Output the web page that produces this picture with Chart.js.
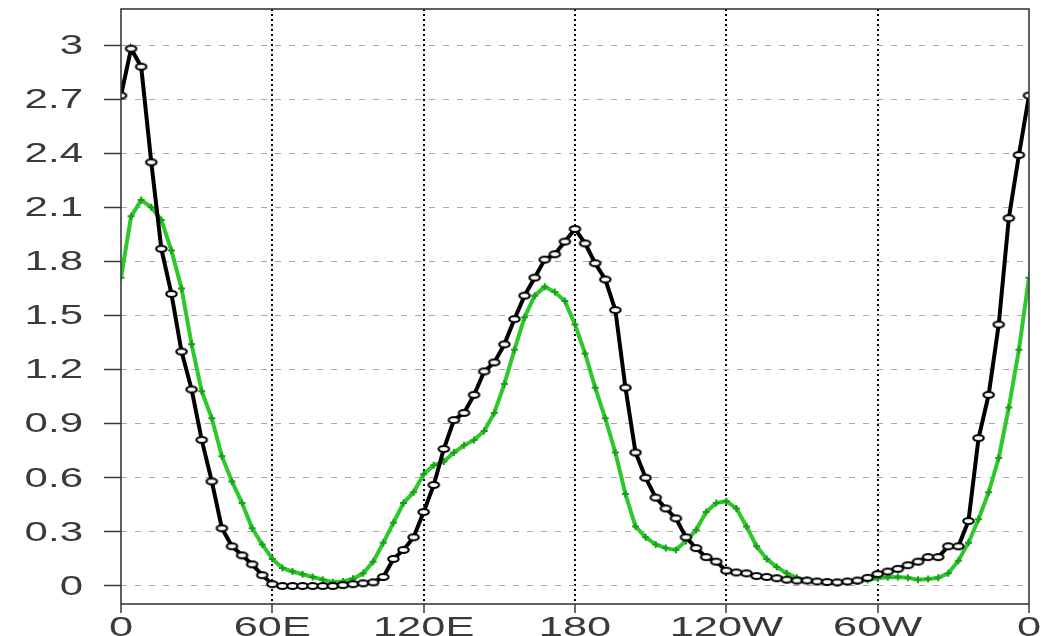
<!DOCTYPE html>
<html>
<head>
<meta charset="utf-8">
<script src="https://cdn.jsdelivr.net/npm/chart.js@4/dist/chart.umd.min.js"></script>
<style>
  html, body { margin: 0; padding: 0; background: #fff; }
  #wrap { width: 1041px; height: 636px; position: relative; }
</style>
</head>
<body>
<div id="wrap"><canvas id="chart"></canvas></div>
<script>
// longitude grid (degrees east, 0..360)
const lon = [
  0, 4, 8, 12, 16, 20, 24, 28, 32, 36, 40, 44, 48, 52, 56, 60,
  64, 68, 72, 76, 80, 84, 88, 92, 96, 100, 104, 108, 112, 116, 120,
  124, 128, 132, 136, 140, 144, 148, 152, 156, 160, 164, 168, 172, 176, 180,
  184, 188, 192, 196, 200, 204, 208, 212, 216, 220, 224, 228, 232, 236, 240,
  244, 248, 252, 256, 260, 264, 268, 272, 276, 280, 284, 288, 292, 296, 300,
  304, 308, 312, 316, 320, 324, 328, 332, 336, 340, 344, 348, 352, 356, 360
];

const blackSeries = [
  2.72, 2.98, 2.88, 2.35, 1.87, 1.62, 1.30, 1.09, 0.81, 0.58, 0.32, 0.22, 0.17, 0.12, 0.06, 0.01,
  0.0, 0.0, 0.0, 0.0, 0.0, 0.0, 0.005, 0.01, 0.015, 0.02, 0.05, 0.15, 0.20, 0.27, 0.41,
  0.56, 0.76, 0.92, 0.96, 1.06, 1.19, 1.24, 1.34, 1.48, 1.61, 1.71, 1.81, 1.84, 1.91, 1.98,
  1.90, 1.79, 1.70, 1.53, 1.10, 0.74, 0.60, 0.49, 0.43, 0.375, 0.27, 0.21, 0.16, 0.135, 0.085,
  0.075, 0.07, 0.055, 0.05, 0.043, 0.035, 0.03, 0.03, 0.025, 0.022, 0.02, 0.025, 0.03, 0.045, 0.066,
  0.08, 0.095, 0.115, 0.135, 0.16, 0.16, 0.22, 0.22, 0.36, 0.82, 1.06, 1.45, 2.04, 2.39, 2.72
];

const greenSeries = [
  1.71, 2.05, 2.14, 2.10, 2.03, 1.86, 1.65, 1.34, 1.08, 0.93, 0.72, 0.58, 0.46, 0.32, 0.23, 0.15,
  0.10, 0.08, 0.065, 0.05, 0.035, 0.02, 0.025, 0.04, 0.07, 0.135, 0.24, 0.35, 0.46, 0.52, 0.62,
  0.67, 0.69, 0.74, 0.78, 0.81, 0.86, 0.96, 1.12, 1.31, 1.49, 1.61, 1.66, 1.63, 1.58, 1.45,
  1.29, 1.10, 0.93, 0.74, 0.51, 0.33, 0.27, 0.23, 0.21, 0.20, 0.25, 0.31, 0.41, 0.46, 0.47,
  0.43, 0.33, 0.22, 0.15, 0.105, 0.07, 0.045, 0.033, 0.025, 0.02, 0.015, 0.02, 0.025, 0.035, 0.043,
  0.048, 0.05, 0.045, 0.035, 0.038, 0.045, 0.07, 0.14, 0.24, 0.37, 0.52, 0.71, 0.99, 1.31, 1.71
];

const xTickValues = [0, 60, 120, 180, 240, 300, 360];
const xTickLabels = ['0', '60E', '120E', '180', '120W', '60W', '0'];
const yTickValues = [0, 0.3, 0.6, 0.9, 1.2, 1.5, 1.8, 2.1, 2.4, 2.7, 3];
const yTickLabels = ['0', '0.3', '0.6', '0.9', '1.2', '1.5', '1.8', '2.1', '2.4', '2.7', '3'];

// open ellipse marker, the original looks horizontally stretched
function ellipseMarker() {
    const c = document.createElement('canvas');
    c.width = 15;
    c.height = 10;
    const g = c.getContext('2d');
    g.beginPath();
    g.ellipse(7.5, 5, 5.2, 3.0, 0, 0, Math.PI * 2);
    g.fillStyle = '#ffffff';
    g.fill();
    g.lineWidth = 2.2;
    g.strokeStyle = '#000000';
    g.stroke();
    return c;
}

// tick labels are drawn stretched sideways, like the reference font
const stretchedLabels = {
    id: 'stretchedLabels',
    afterDraw(chart) {
        const {ctx, chartArea, scales} = chart;
        ctx.save();
        ctx.font = '28px "Liberation Sans", Arial, sans-serif';
        ctx.fillStyle = '#3a3a3a';

        // frame
        ctx.strokeStyle = '#3a3a3a';
        ctx.lineWidth = 1.6;
        ctx.strokeRect(chartArea.left, chartArea.top,
            chartArea.right - chartArea.left, chartArea.bottom - chartArea.top);

        ctx.textAlign = 'right';
        ctx.textBaseline = 'middle';
        yTickValues.forEach((v, i) => {
            const py = scales.y.getPixelForValue(v);
            ctx.save();
            ctx.translate(83, py + 1);
            ctx.scale(1.5, 1);
            ctx.fillText(yTickLabels[i], 0, 0);
            ctx.restore();
        });

        ctx.textAlign = 'center';
        ctx.textBaseline = 'top';
        xTickValues.forEach((v, i) => {
            const px = scales.x.getPixelForValue(v);
            ctx.save();
            ctx.translate(px, chartArea.bottom + 10);
            ctx.scale(1.55, 1);
            ctx.fillText(xTickLabels[i], 0, 0);
            ctx.restore();
        });
        ctx.restore();
    }
};

const ctx = document.getElementById('chart');

new Chart(ctx, {
    type: 'line',
    data: {
        datasets: [
            {
                label: 'black',
                data: lon.map((x, i) => ({x: x, y: blackSeries[i]})),
                borderColor: '#000000',
                borderWidth: 4,
                pointStyle: ellipseMarker(),
                pointRadius: 5,
                tension: 0
            },
            {
                label: 'green',
                data: lon.map((x, i) => ({x: x, y: greenSeries[i]})),
                borderColor: '#2cc82c',
                borderWidth: 4,
                pointStyle: 'cross',
                pointRadius: 3.5,
                pointBorderColor: '#1b9e1b',
                pointBorderWidth: 2,
                tension: 0
            }
        ]
    },
    options: {
        responsive: true,
        maintainAspectRatio: false,
        animation: false,
        events: [],
        layout: {
            padding: {left: 0, top: 9, right: 12, bottom: 0}
        },
        plugins: {
            legend: {display: false},
            tooltip: {enabled: false}
        },
        scales: {
            x: {
                type: 'linear',
                min: 0,
                max: 360,
                afterBuildTicks: (scale) => {
                    scale.ticks = xTickValues.map(v => ({value: v}));
                },
                afterFit: (scale) => {
                    scale.height = 32;
                },
                ticks: {display: false},
                grid: {
                    color: (c) => (c.tick && (c.tick.value === 0 || c.tick.value === 360)) ? 'rgba(0,0,0,0)' : '#000000',
                    lineWidth: 2,
                    drawTicks: true,
                    tickLength: 9,
                    tickColor: '#3a3a3a',
                    tickWidth: 1.5
                },
                border: {display: false, dash: [2, 3]}
            },
            y: {
                type: 'linear',
                min: -0.1,
                max: 3.2,
                afterBuildTicks: (scale) => {
                    scale.ticks = yTickValues.map(v => ({value: v}));
                },
                afterFit: (scale) => {
                    scale.width = 121;
                },
                ticks: {display: false},
                grid: {
                    color: '#a8a8a8',
                    lineWidth: 1,
                    drawTicks: true,
                    tickLength: 17,
                    tickColor: '#3a3a3a',
                    tickWidth: 1.5
                },
                border: {display: false, dash: [6, 8]}
            }
        }
    },
    plugins: [stretchedLabels]
});
</script>
</body>
</html>
